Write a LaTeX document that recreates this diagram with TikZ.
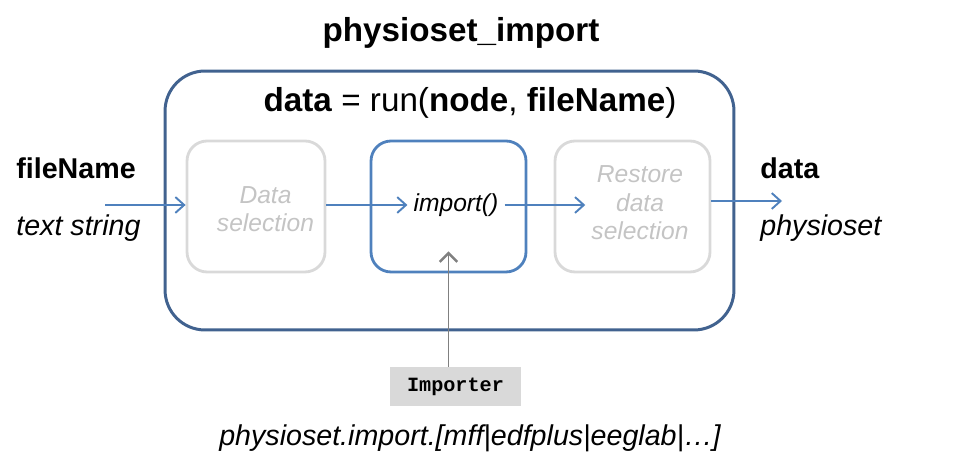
\documentclass[tikz,border=0pt]{standalone}
\usepackage{fontspec}
\setmainfont{Liberation Sans}
\setmonofont{Liberation Mono}
\usetikzlibrary{arrows.meta}
\definecolor{dblue}{HTML}{41628F}
\definecolor{lblue}{HTML}{4F81BD}
\definecolor{lgray}{HTML}{D9D9D9}
\definecolor{tgray}{HTML}{C4C4C4}
\definecolor{agray}{HTML}{808080}

\begin{document}
\begin{tikzpicture}[x=0.02cm,y=-0.02cm,
  procbox/.style={draw, line width=1.6pt, rounded corners=0.4cm, minimum width=3.1cm, minimum height=2.62cm},
  flow/.style={draw=lblue, line width=0.9pt, -{Straight Barb[length=5pt,width=9pt,line width=1.1pt]}},
  feed/.style={draw=agray, line width=0.9pt, -{Straight Barb[length=5pt,width=10pt,line width=1.4pt]}},
  lbl/.style={anchor=west, inner sep=0pt},
  bigbf/.style={font=\fontsize{16.3}{19}\selectfont\bfseries},
  bigit/.style={font=\fontsize{16.3}{19}\selectfont\itshape},
  boxtxt/.style={font=\fontsize{14}{16.2}\selectfont\itshape, align=center}]
\useasboundingbox (0,0) rectangle (969,465);
\node[font=\fontsize{18.9}{22}\selectfont\bfseries] (title) at (461,33) {physioset\_import};
\node[draw=dblue, line width=1.7pt, rounded corners=0.8cm, minimum width=11.38cm, minimum height=5.18cm] (runbox) at (449.5,200.5) {};
\node[font=\fontsize{18.9}{22}\selectfont] (call) at (470,103) {\textbf{data} = run(\textbf{node}, \textbf{fileName})};
\node[procbox, draw=lgray, minimum width=2.76cm] (ds) at (256,206.5) {};
\node[procbox, draw=lblue] (imp) at (448.5,206.5) {};
\node[procbox, draw=lgray] (rds) at (632.5,206.5) {};
\node[boxtxt, tgray] (dstxt) at (265.5,209) {Data\\selection};
\node[boxtxt] (imptxt) at (456,205) {import()};
\node[boxtxt, tgray] (rdstxt) at (640,203) {Restore\\data\\selection};
\node[lbl, bigbf] (fn) at (16,168) {fileName};
\node[lbl, bigit] (fntype) at (16,228) {text string};
\node[lbl, bigbf] (dat) at (760,168) {data};
\node[lbl, bigit] (dattype) at (760,228) {physioset};
\coordinate (fnin) at (105,205);
\coordinate (dout) at (782,201);
\draw[flow] (fnin) -- (fnin -| ds.west);
\draw[flow] (ds.east |- imptxt) -- (imptxt.west);
\draw[flow] (imptxt.east) -- (imptxt.east -| rdstxt.west);
\draw[flow] (rds.east |- dout) -- (dout);
\node[fill=lgray, font=\fontsize{11.5}{13}\selectfont\ttfamily\bfseries, minimum width=2.62cm, minimum height=0.78cm] (imptr) at (455.5,386.5) {Importer};
\draw[feed] (imptr.north -| imp.south) -- ([yshift=0.44cm]imp.south);
\node[bigit] (fmts) at (470,438) {physioset.import.[mff|edfplus|eeglab|…]};
\end{tikzpicture}
\end{document}
